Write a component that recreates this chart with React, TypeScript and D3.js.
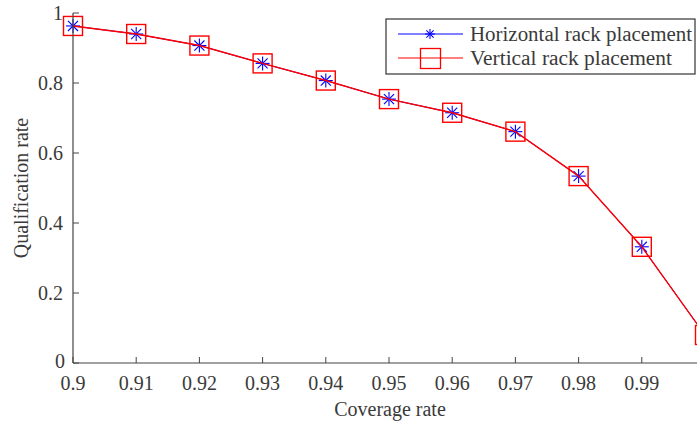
import React from "react";
import * as d3 from "d3";

const coverage = [0.9, 0.91, 0.92, 0.93, 0.94, 0.95, 0.96, 0.97, 0.98, 0.99, 1.0];
const horizontal = [0.963, 0.94, 0.907, 0.856, 0.807, 0.754, 0.715, 0.661, 0.534, 0.332, 0.08];
const vertical = [0.963, 0.94, 0.907, 0.856, 0.807, 0.754, 0.715, 0.661, 0.534, 0.332, 0.08];
const xTicks = [0.9, 0.91, 0.92, 0.93, 0.94, 0.95, 0.96, 0.97, 0.98, 0.99];
const yTicks = [0, 0.2, 0.4, 0.6, 0.8, 1];
const seriesNames = ["Horizontal rack placement", "Vertical rack placement"];

const W = 697;
const H = 423;
const FONT = "'Liberation Serif', 'Times New Roman', serif";
const TXT = "#3a3a3a";
const FS = 20;

export default function App() {
  const x = d3.scaleLinear().domain([0.9, 1.0]).range([73, 705]);
  const y = d3.scaleLinear().domain([0, 1]).range([363, 13]);
  const line = d3
    .line<number>()
    .x((_, i) => x(coverage[i]))
    .y((d) => y(d));

  const star = (cx: number, cy: number, r: number, key: string) => {
    const d2 = r * 0.72;
    return (
      <g key={key} stroke="#0000ff" strokeWidth={1.1}>
        <line x1={cx - r} y1={cy} x2={cx + r} y2={cy} />
        <line x1={cx} y1={cy - r} x2={cx} y2={cy + r} />
        <line x1={cx - d2} y1={cy - d2} x2={cx + d2} y2={cy + d2} />
        <line x1={cx - d2} y1={cy + d2} x2={cx + d2} y2={cy - d2} />
      </g>
    );
  };

  return (
    <svg
      width={W}
      height={H}
      style={{ position: "absolute", left: 0, top: 0, background: "#fff" }}
      fontFamily={FONT}
    >
      <rect x={0} y={0} width={W} height={H} fill="#fff" />
      {/* series */}
      <path d={line(horizontal) || ""} fill="none" stroke="#0000ff" strokeWidth={1} />
      {horizontal.map((v, i) => star(x(coverage[i]), y(v), 7, "s" + i))}
      <path d={line(vertical) || ""} fill="none" stroke="#ff0000" strokeWidth={1.4} />
      {vertical.map((v, i) => (
        <rect
          key={"r" + i}
          x={x(coverage[i]) - 9.5}
          y={y(v) - 9.5}
          width={19}
          height={19}
          fill="none"
          stroke="#ff0000"
          strokeWidth={1.4}
        />
      ))}
      {/* axes */}
      <line x1={x(0.9)} y1={y(0)} x2={W + 20} y2={y(0)} stroke="#444" strokeWidth={1.2} />
      <line x1={x(0.9)} y1={y(0)} x2={x(0.9)} y2={y(1)} stroke="#444" strokeWidth={1.2} />
      {xTicks.map((t) => (
        <g key={"xt" + t}>
          <line x1={x(t)} y1={y(0)} x2={x(t)} y2={y(0) - 6} stroke="#444" strokeWidth={1} />
          <text x={x(t)} y={390} textAnchor="middle" fontSize={FS} fill={TXT}>
            {d3.format("")(t)}
          </text>
        </g>
      ))}
      {yTicks.map((t) => (
        <g key={"yt" + t}>
          <line x1={x(0.9)} y1={y(t)} x2={x(0.9) + 6} y2={y(t)} stroke="#444" strokeWidth={1} />
          <text
            x={t === 0 ? 65 : 63}
            y={t === 0 ? y(t) + 5 : y(t) + 7}
            textAnchor="end"
            fontSize={FS}
            fill={TXT}
          >
            {String(t)}
          </text>
        </g>
      ))}
      <text x={390} y={416} textAnchor="middle" fontSize={FS} fill={TXT}>
        Coverage rate
      </text>
      <text
        transform={`translate(28,${(y(0) + y(1)) / 2}) rotate(-90)`}
        textAnchor="middle"
        fontSize={FS}
        fill={TXT}
      >
        Qualification rate
      </text>
      {/* legend */}
      <rect x={386} y={19} width={309} height={55} fill="#fff" stroke="#333" strokeWidth={1.2} />
      <line x1={398} y1={34} x2={463} y2={34} stroke="#0000ff" strokeWidth={1} />
      {star(430, 34, 5, "ls")}
      <line x1={398} y1={58} x2={463} y2={58} stroke="#ff0000" strokeWidth={1.2} />
      <rect x={420.5} y={48.5} width={20} height={20} fill="none" stroke="#ff0000" strokeWidth={1.3} />
      <text x={470} y={41} fontSize={FS} fill={TXT} textLength={222} lengthAdjust="spacingAndGlyphs">
        {seriesNames[0]}
      </text>
      <text x={470} y={65} fontSize={FS} fill={TXT} textLength={202} lengthAdjust="spacingAndGlyphs">
        {seriesNames[1]}
      </text>
    </svg>
  );
}
